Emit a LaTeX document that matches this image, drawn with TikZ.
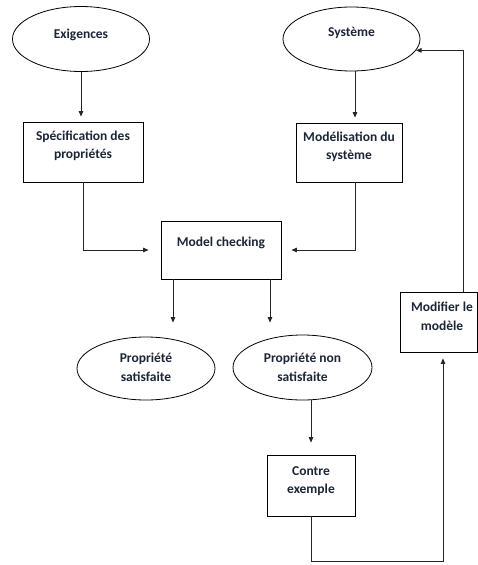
\documentclass[tikz,border=0pt]{standalone}
\usepackage{fontspec}
\setmainfont{Carlito}
\usetikzlibrary{shapes.geometric,arrows.meta}
\definecolor{ink}{HTML}{1C2536}
\tikzset{
  oval/.style={ellipse, draw=black, line width=0.8pt, inner sep=0pt},
  boxnode/.style={rectangle, draw=black, line width=0.8pt, inner sep=0pt},
  caption/.style={font=\bfseries\fontsize{13.5}{18.5}\selectfont, text=ink, align=center, inner sep=0pt},
  flow/.style={draw=black!85, line width=0.8pt, -{Triangle[length=5.5pt,width=4.5pt]}},
}
\begin{document}
\begin{tikzpicture}[x=1pt,y=-1pt]
  \useasboundingbox (0,0) rectangle (478,565);

  % shapes
  \node[oval, minimum width=137pt, minimum height=65pt] (exig) at (81,39) {};
  \node[oval, minimum width=137pt, minimum height=64pt] (sys) at (351.5,39) {};
  \node[boxnode, minimum width=120pt, minimum height=60pt] (spec) at (83,152) {};
  \node[boxnode, minimum width=106pt, minimum height=59pt] (modl) at (349,152.5) {};
  \node[boxnode, minimum width=120pt, minimum height=58pt] (mc) at (221,250) {};
  \node[oval, minimum width=138pt, minimum height=63pt] (psat) at (146,368.5) {};
  \node[oval, minimum width=139pt, minimum height=65pt] (pnon) at (302.5,367.5) {};
  \node[boxnode, minimum width=88pt, minimum height=61pt] (ce) at (311,485.5) {};
  \node[boxnode, minimum width=77pt, minimum height=60pt] (modif) at (438.5,322) {};

  % texts
  \node[caption] (exigT) at (81,35) {Exigences};
  \node[caption] (sysT) at (351.5,33) {Système};
  \node[caption] (specT) at (83,146) {Spécification des\\propriétés};
  \node[caption] (modlT) at (349,147) {Modélisation du\\système};
  \node[caption] (mcT) at (221,243) {Model checking};
  \node[caption] (psatT) at (146,367.5) {Propriété\\satisfaite};
  \node[caption] (pnonT) at (302.5,367.5) {Propriété non\\satisfaite};
  \node[caption] (ceT) at (311,481) {Contre\\exemple};
  \node[caption] (modifT) at (442,316.5) {Modifier le\\modèle};

  % connectors
  \coordinate (loop) at (311,561);
  \draw[flow, shorten >=5pt] (exig.south) -- (exig.south |- spec.north);
  \draw[flow, shorten >=5pt] ([xshift=3.5pt]sys.south) -- ([xshift=3.5pt]sys.south |- modl.north);
  \draw[flow, shorten >=12pt] (spec.south) |- (mc.west);
  \draw[flow, shorten >=10pt] ([xshift=6pt]modl.south) |- (mc.east);
  \draw[flow, shorten >=14pt] ([xshift=-48pt]mc.south) -- ([xshift=-48pt]mc.south |- psat.north);
  \draw[flow, shorten >=12pt] ([xshift=49pt]mc.south) -- ([xshift=49pt]mc.south |- pnon.north);
  \draw[flow, shorten >=12pt] (ce.north |- pnon.south) -- (ce.north);
  \draw[flow, shorten >=6pt] (ce.south) -- (loop) -| ([xshift=4.5pt]modif.south);
  \draw[flow] ([xshift=24.5pt]modif.north) |- (sys.-10);
\end{tikzpicture}
\end{document}
